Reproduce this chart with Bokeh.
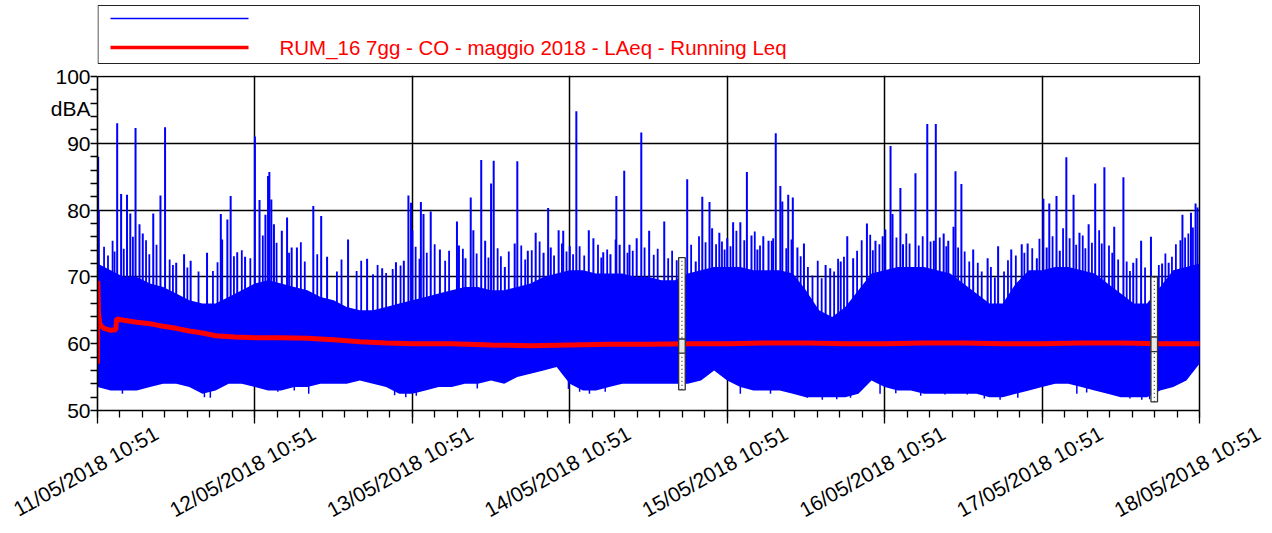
import math
from bokeh.plotting import figure
from bokeh.models import Range1d, FixedTicker, LinearAxis, Grid
from bokeh.layouts import column
from bokeh.embed import file_html
from bokeh.resources import INLINE
from bokeh.core.properties import value

FONT = "Liberation Sans"
BLUE = "#0000ff"
RED = "#ff0000"

# ---------------- data ----------------
tick_hours = [0, 24, 48, 72, 96, 120, 144, 168]
tick_labels = ["11/05/2018 10:51", "12/05/2018 10:51", "13/05/2018 10:51",
               "14/05/2018 10:51", "15/05/2018 10:51", "16/05/2018 10:51",
               "17/05/2018 10:51", "18/05/2018 10:51"]
y_ticks = [50, 60, 70, 80, 90, 100]
y_unit = "dBA"
y_unit_pos = 95.2
legend_label = "RUM_16 7gg - CO - maggio 2018 - LAeq - Running Leq"

# LAeq short samples: dense band (lower / upper envelope every 2 hours)
band_hours = list(range(0, 170, 2))
band_low = [53.5, 53, 53, 53, 53.5, 54, 54, 53.5, 52.5, 53, 54, 54,
            53.5, 53, 53, 53.5, 53.5, 54, 54, 54, 54.5, 54, 53.5, 52.5,
            52.5, 53, 53.5, 53.5, 54, 54, 54.5, 54, 55, 55.5, 56, 56.5,
            54, 53, 53, 53.5, 54, 54, 54, 54, 54, 54, 54.5, 56,
            54.5, 53.5, 53, 53, 53, 52.5, 52, 52, 52, 52, 52.5, 54.5,
            53.5, 53, 53, 52.5, 52.5, 52.5, 52.5, 52.5, 52, 52, 52.5, 53,
            53.5, 54, 54, 53.5, 53, 52.5, 52, 52, 52, 53, 53.5, 54.5,
            57]
band_high = [72, 71, 70, 70, 69, 68.5, 67.5, 66.5, 66, 66, 67, 68,
             69, 69.5, 69, 68.5, 68, 67, 66.5, 65.5, 65, 65, 65.5, 66,
             66.5, 67, 67.5, 68, 68.5, 68.5, 68, 68, 68.5, 69, 70, 70.5,
             71, 71, 70.5, 70.5, 70.5, 70, 70, 69.5, 69.5, 70.5, 71, 71.5,
             71.5, 71.5, 71, 71, 71, 70.5, 68, 65, 64, 65.5, 68, 70.5,
             71, 71.5, 71.5, 71.5, 71, 70.5, 69, 67.5, 66, 66, 69, 71,
             71, 71.5, 71.5, 71, 70.5, 69, 67.5, 66, 66, 68.5, 71, 71.5,
             72]

# tall individual peaks
spike_hours = [0.1, 0.2, 3.0, 3.6, 4.5, 5.0, 5.8, 6.4, 6.9, 8.5, 9.6, 10.3,
               12.0, 13.2, 14.2, 16.7, 18.8, 19.0, 19.8, 20.3, 21.3, 22.5,
               24.0, 24.7, 25.6, 26.0, 26.2, 26.5, 26.9, 28.1, 28.9, 29.6, 30.4,
               32.9, 34.1, 35.0, 38.2, 41.1, 43.4, 45.5, 46.7, 47.4, 47.8, 48.0,
               49.1, 49.3, 49.7, 50.8, 52.2, 54.8, 55.1, 56.1, 56.9, 57.3, 58.5,
               59.1, 60.0, 60.4, 62.1, 63.6, 64.0, 65.6, 66.8, 68.0, 68.7, 69.1,
               70.3, 71.0, 72.0, 73.0, 74.9, 75.6, 77.1, 78.2, 79.0, 79.1, 79.6,
               80.3, 81.1, 82.2, 82.9, 84.1, 86.4, 89.9, 91.2, 92.2, 93.3, 93.7,
               94.8, 96.0, 96.9, 98.0, 99.0, 99.7, 100.6, 101.5, 102.3, 102.8,
               103.4, 104.1, 104.4, 105.3, 106.0, 106.7, 107.7, 111.0, 111.7,
               113.3, 114.3, 115.2, 117.3, 118.6, 119.7, 120.1, 120.9, 121.2,
               122.4, 122.8, 124.7, 126.5, 127.5, 127.8, 129.0, 129.7, 130.5,
               130.8, 131.7, 133.5, 135.7, 137.3, 139.3, 140.9, 141.8, 143.2,
               144.2, 144.7, 145.1, 146.2, 146.7, 147.7, 148.8, 149.7, 151.1,
               152.1, 153.5, 155.0, 156.4, 157.9, 159.1, 160.6, 162.3, 163.3,
               165.1, 165.4, 166.7, 167.4, 167.7]
spike_peaks = [88.0, 79.9, 93.0, 82.4, 82.3, 79.5, 92.3, 77.9, 76.5, 79.5, 82.2, 92.4,
               72.1, 73.4, 72.4, 73.6, 79.4, 75.6, 78.6, 82.1, 73.7, 73.0,
               91.0, 81.5, 79.3, 85.1, 85.7, 81.6, 77.9, 76.9, 78.9, 74.4, 74.4,
               80.6, 79.1, 73.0, 75.6, 72.7, 71.3, 72.2, 72.4, 82.2, 81.1, 77.0,
               72.7, 81.2, 79.4, 79.8, 74.1, 78.3, 74.7, 72.8, 81.9, 77.0, 87.5,
               75.4, 84.0, 87.4, 71.5, 75.0, 87.3, 73.9, 76.6, 73.6, 80.3, 74.4,
               77.0, 76.9, 74.6, 94.8, 77.0, 75.8, 73.7, 73.4, 75.6, 82.1, 74.8,
               85.9, 74.8, 75.8, 91.6, 76.9, 78.3, 84.6, 72.3, 82.0, 81.2, 77.3,
               76.6, 75.8, 78.2, 78.2, 85.7, 76.2, 74.1, 76.1, 75.4, 75.4,
               91.5, 83.6, 81.3, 82.3, 81.9, 74.4, 75.0, 71.8, 71.3,
               72.3, 76.1, 72.8, 78.0, 75.4, 76.1, 77.1, 89.6, 79.4,
               83.3, 74.9, 85.5, 92.9, 75.4, 92.9, 76.5, 75.4, 77.5,
               85.8, 83.9, 74.1, 72.8, 74.6, 74.1, 74.9, 75.0, 72.8,
               81.7, 74.4, 81.0, 82.1, 73.9, 87.9, 82.3, 76.6, 77.9,
               84.0, 86.4, 77.5, 84.9, 72.1, 75.4, 76.0, 72.0, 72.1,
               75.5, 79.3, 79.6, 81.0, 80.4]

# smaller peaks just above the dense band
minor_peak_hours = [1.0, 1.6, 2.3, 2.6, 4.0, 5.4, 7.4, 7.9, 9.0, 11.0, 11.5, 13.7,
                    15.4, 17.6, 18.3, 20.8, 22.0, 23.3,
                    25.2, 27.3, 29.2, 31.0, 31.6, 33.5, 36.5, 37.2, 39.5, 40.2,
                    42.0, 42.7, 44.0, 45.0, 46.2,
                    48.5, 50.2, 51.4, 53.0, 53.6, 55.7, 57.8, 59.6, 61.0, 61.5,
                    62.7, 64.6, 65.2, 66.2, 67.4, 69.6, 70.8, 71.5,
                    72.5, 73.5, 74.2, 76.3, 76.8, 77.7, 80.8, 81.6, 83.4, 84.8,
                    85.4, 87.0, 87.6, 88.3, 90.5, 91.7, 92.7, 94.3, 95.2, 95.6,
                    96.5, 97.4, 98.6, 100.2, 101.0, 103.0, 105.0, 105.8, 107.2,
                    108.3, 109.0, 109.8, 110.4, 112.3, 112.9, 113.8, 115.8, 116.5,
                    117.8, 118.2, 119.2,
                    121.8, 123.3, 123.8, 125.2, 125.8, 127.0, 128.4, 129.4, 131.2,
                    132.2, 132.9, 134.2, 134.8, 136.2, 136.8, 138.2, 138.8, 140.0,
                    141.3, 142.5, 143.6,
                    145.6, 147.2, 148.2, 149.2, 150.2, 150.6, 151.6, 152.7, 153.1,
                    154.2, 154.7, 155.6, 156.9, 157.4, 158.4, 159.7, 161.8, 162.8,
                    163.8, 164.4, 165.8, 166.3, 167.0]
minor_peak_values = [74.5, 73.2, 75.4, 73.8, 74.2, 76.0, 75.5, 73.4, 74.8, 72.6, 71.8, 71.4,
                     70.8, 70.9, 72.2, 73.1, 74.0, 72.8,
                     76.2, 75.1, 73.6, 75.2, 72.3, 73.4, 70.8, 72.6, 70.9, 72.4,
                     70.4, 71.8, 70.6, 71.2, 71.7,
                     74.5, 73.6, 74.9, 72.4, 73.9, 74.2, 73.5, 72.9, 74.3, 73.1,
                     73.8, 74.7, 72.6, 74.0, 75.3, 73.2, 75.0, 73.8,
                     73.4, 74.6, 73.2, 74.8, 72.9, 74.1, 73.6, 73.9, 74.4, 73.3,
                     74.2, 72.8, 73.9, 72.5, 74.8, 76.1, 75.2, 74.9, 75.3, 74.1,
                     74.6, 76.9, 75.5, 76.8, 74.7, 75.8, 74.3, 75.6, 73.1,
                     71.5, 70.2, 72.4, 69.8, 70.8, 72.7, 73.0, 73.9, 75.5,
                     76.3, 74.0, 74.9,
                     75.9, 76.5, 75.0, 74.7, 76.1, 75.3, 75.9, 74.6, 74.4,
                     73.8, 72.3, 72.1, 70.8, 71.5, 69.9, 70.8, 72.5, 73.2,
                     73.6, 74.3, 75.7,
                     76.1, 77.3, 75.8, 74.8, 76.2, 74.3, 75.1, 77.0, 75.0,
                     74.7, 73.6, 72.6, 72.3, 70.9, 72.8, 71.4, 71.8, 73.5,
                     73.0, 74.9, 75.9, 76.5, 77.4]

# individual minima below the band
dip_hours = [3.8, 15.2, 16.3, 17.2, 27.5, 30.0, 32.2, 45.3, 47.0, 48.6, 50.8,
             57.9, 71.8, 73.5, 75.0, 77.4, 98.0, 102.6, 108.2, 110.5, 112.7,
             114.8, 119.3, 121.7, 125.5, 129.2, 132.6, 135.2, 137.6, 140.3,
             149.3, 150.8, 157.4, 159.2, 160.4]
dip_values = [52.5, 53.3, 52.0, 51.9, 52.8, 53.0, 52.5, 52.3, 52.0, 52.2, 53.3,
              53.3, 53.2, 52.8, 52.5, 52.8, 52.5, 52.5, 51.9, 51.6, 51.7,
              51.9, 52.5, 52.6, 52.2, 52.4, 52.4, 51.8, 51.6, 51.9,
              52.5, 52.7, 51.8, 51.6, 51.7]

# Running Leq
leq_hours = [0, 0.05, 0.15, 0.4, 1, 2, 2.8, 2.9, 4, 6, 8, 10, 12, 14, 16, 18,
             21, 24, 28, 32, 36, 40, 44, 48, 54, 60, 66, 72, 78, 84, 90, 96,
             102, 108, 114, 120, 126, 132, 138, 144, 150, 156, 162, 168]
leq_values = [57, 69.4, 64.5, 62.8, 62.3, 62.0, 62.1, 63.7, 63.5, 63.2, 63.0, 62.6,
              62.3, 61.9, 61.6, 61.2, 61.0, 60.9, 60.9, 60.8, 60.6, 60.3, 60.1,
              60.0, 60.0, 59.8, 59.7, 59.8, 59.9, 59.9, 60.0, 60.0, 60.1, 60.1,
              60.0, 60.0, 60.1, 60.1, 60.0, 60.0, 60.1, 60.1, 60.0, 60.0]

# cursor markers
marker_hours = [89.1, 161.1]
marker_top = [72.9, 70.0]
marker_bottom = [53.1, 51.3]
marker_box_low = [58.6, 58.8]
marker_box_high = [60.7, 61.0]

# ---------------- layout constants ----------------
T_END = tick_hours[-1]
LEFT = 97                      # px, frame left
DATA_W = 1102                  # px between first and last day tick
FRAME_W = 1167                 # frame extended to the right for the rotated labels
X_END = T_END * FRAME_W / DATA_W
Y_END = 100.15
LABEL_SHIFT = 9.0              # hours: rotated label anchor right of its tick
LEG_H = 64

# ---------------- legend strip ----------------
leg = figure(width=LEFT + FRAME_W + 4, height=LEG_H,
             x_range=Range1d(LEFT, LEFT + FRAME_W), y_range=Range1d(LEG_H, 0),
             toolbar_location=None, output_backend="svg", min_border=0,
             x_axis_location=None, y_axis_location=None)
leg.grid.visible = False
leg.outline_line_color = None
leg.quad(left=[LEFT + 0.5], right=[LEFT + DATA_W], top=[5], bottom=[63], fill_color="white",
         line_color="#222222", line_width=1)
leg.line([110, 248], [18, 18], line_color=BLUE, line_width=1.3)
leg.line([110, 248], [47, 47], line_color=RED, line_width=3.5)
leg.text(x=[279], y=[47], text=[legend_label], text_color=RED,
         text_font=value(FONT), text_font_size="20.5px", text_baseline="middle")

# ---------------- main chart ----------------
p = figure(width=LEFT + FRAME_W + 4, frame_width=FRAME_W, frame_height=335,
           min_border_left=LEFT, min_border_right=4,
           min_border_top=75 - LEG_H, min_border_bottom=60,
           x_range=Range1d(0, X_END), y_range=Range1d(50, Y_END),
           toolbar_location=None, output_backend="svg")
p.outline_line_color = None

# x axis: ticks only (labels are carried by the second axis)
xa = p.xaxis[0]
xa.ticker = FixedTicker(ticks=tick_hours,
                        minor_ticks=[i * 24 / 7 for i in range(0, 50) if i * 24 / 7 <= T_END])
xa.bounds = (0, T_END)
xa.major_label_text_font_size = "0px"
xa.major_label_text_color = None
xa.major_label_standoff = 0
xa.major_tick_out = 13
xa.major_tick_in = 0
xa.minor_tick_out = 7
xa.minor_tick_in = 0

# second x axis: rotated date labels
label_pos = [round(t + LABEL_SHIFT, 1) for t in tick_hours]
lab_axis = LinearAxis(ticker=FixedTicker(ticks=label_pos, minor_ticks=[]),
                      major_label_overrides={pos: lab for pos, lab in zip(label_pos, tick_labels)},
                      major_label_orientation=0.51,
                      axis_line_color=None, major_tick_line_color=None,
                      minor_tick_line_color=None, major_tick_out=0, major_tick_in=0,
                      minor_tick_out=0, minor_tick_in=0, major_label_standoff=8,
                      major_label_text_font=FONT, major_label_text_font_size="21px",
                      major_label_text_color="black")
p.add_layout(lab_axis, "below")

# y axis
ya = p.yaxis[0]
ya.ticker = FixedTicker(ticks=y_ticks + [y_unit_pos], minor_ticks=list(range(50, 101, 2)))
ya.major_label_overrides = {y_unit_pos: y_unit}
ya.bounds = (50, 100)
ya.major_tick_line_color = None
ya.major_tick_out = 7
ya.major_tick_in = 0
ya.minor_tick_out = 7
ya.minor_tick_in = 0
ya.major_label_standoff = 0
ya.major_label_text_font = FONT
ya.major_label_text_font_size = "21px"
ya.major_label_text_color = "black"

for ax in (xa, ya):
    ax.axis_line_color = "black"
    ax.axis_line_width = 1.6
    ax.minor_tick_line_color = "black"
    ax.major_tick_line_width = 1.3
    ax.minor_tick_line_width = 1.3
xa.major_tick_line_color = "black"

# grid
p.xgrid[0].ticker = FixedTicker(ticks=tick_hours)
p.ygrid[0].ticker = FixedTicker(ticks=y_ticks)
p.grid.grid_line_color = "black"
p.grid.grid_line_width = 1.5
p.grid.grid_line_alpha = 1.0
has_cross = "cross_bounds" in Grid.properties()
if has_cross:
    p.ygrid[0].cross_bounds = (0, T_END)

# data
p.varea(x=band_hours, y1=band_low, y2=band_high, fill_color=BLUE)
p.segment(x0=minor_peak_hours, y0=[60] * len(minor_peak_hours), x1=minor_peak_hours,
          y1=minor_peak_values, line_color=BLUE, line_width=1.8)
p.segment(x0=spike_hours, y0=[60] * len(spike_hours), x1=spike_hours, y1=spike_peaks,
          line_color=BLUE, line_width=2)
p.segment(x0=dip_hours, y0=[60] * len(dip_hours), x1=dip_hours, y1=dip_values,
          line_color=BLUE, line_width=1.5)
p.line(leq_hours, leq_values, line_color=RED, line_width=5)

mk_left = [h - 0.5 for h in marker_hours]
mk_right = [h + 0.5 for h in marker_hours]
p.quad(left=mk_left, right=mk_right, top=marker_top, bottom=marker_bottom,
       fill_color="white", line_color="#333333", line_width=1.3)
p.segment(x0=marker_hours, y0=marker_bottom, x1=marker_hours, y1=marker_top,
          line_color="black", line_width=1, line_dash="1 3")
p.quad(left=mk_left, right=mk_right, top=marker_box_high, bottom=marker_box_low,
       fill_color="#e8e8e8", line_color="#333333", line_width=1.3)

if not has_cross:
    p.quad(left=[T_END + 0.15], right=[X_END], bottom=[50.3], top=[Y_END],
           fill_color="white", line_color=None)

layout = column(leg, p)
open("out.html", "w").write(file_html(layout, INLINE))
